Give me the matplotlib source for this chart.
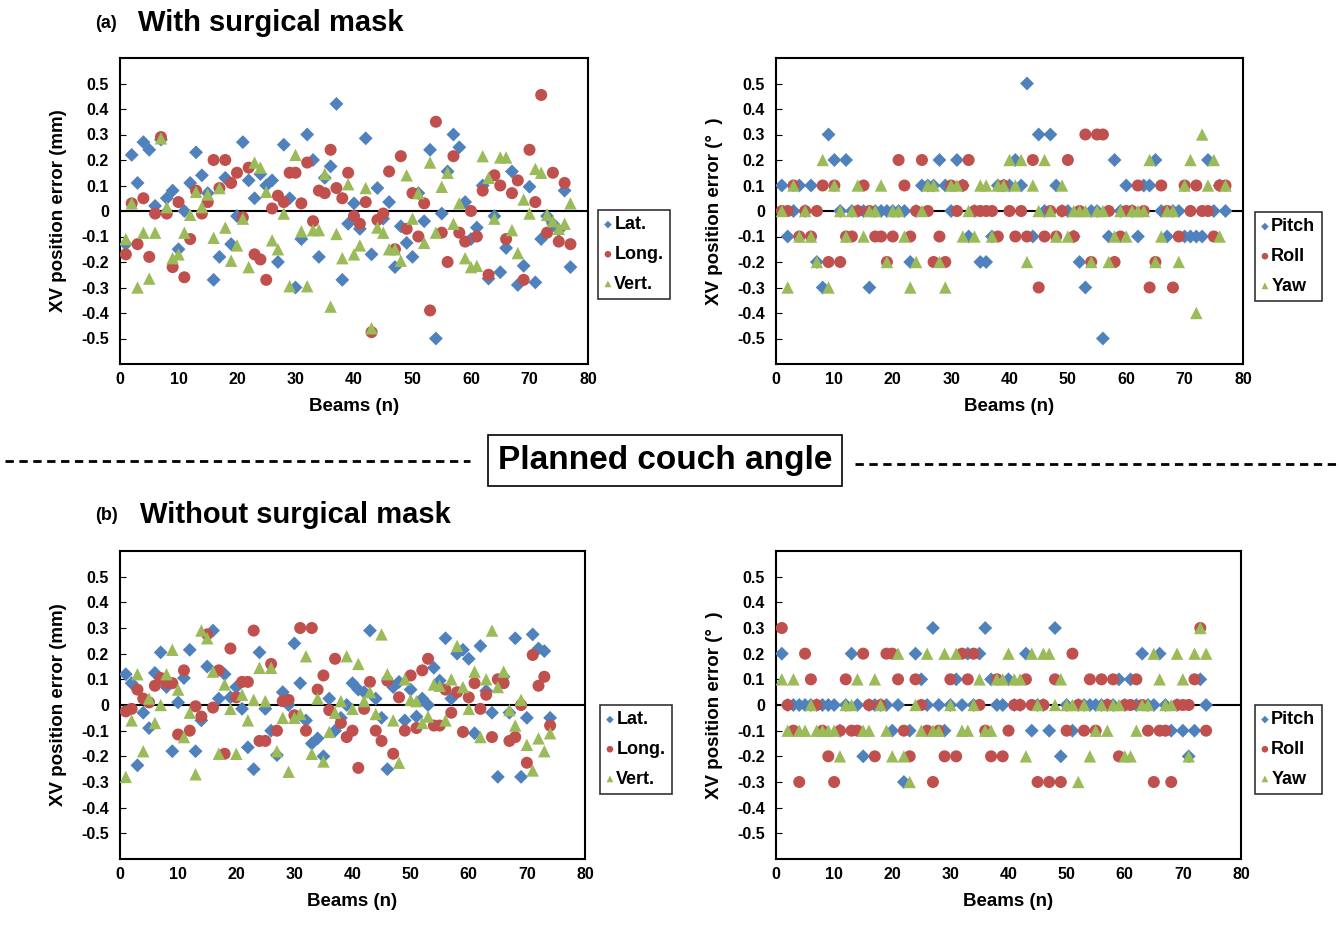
import matplotlib
matplotlib.use('Agg')
import matplotlib.pyplot as plt
from matplotlib.lines import Line2D

plt.rcParams['font.family'] = ['Liberation Sans', 'DejaVu Sans']
plt.rcParams['font.weight'] = 'bold'

# ---- data: (a) with surgical mask, beams 1..77 ----
beams_a = list(range(1, 78))
lat_a = [-0.13, 0.22, 0.11, 0.27, 0.24, 0.02, 0.28, 0.05, 0.08, -0.15,
         0.0, 0.11, 0.23, 0.14, 0.07, -0.27, -0.18, 0.13, -0.13, -0.02,
         0.27, 0.12, 0.05, 0.145, 0.1, 0.12, -0.2, 0.26, 0.05, -0.3,
         -0.11, 0.3, 0.2, -0.18, 0.13, 0.175, 0.42, -0.27, -0.05, 0.03,
         -0.07, 0.285, -0.17, 0.09, -0.03, 0.035, -0.22, -0.06, -0.125, -0.18,
         0.07, -0.04, 0.24, -0.5, -0.01, 0.155, 0.3, 0.25, 0.035, -0.11,
         -0.065, 0.1, -0.265, -0.02, -0.24, -0.145, 0.155, -0.29, -0.215, 0.095,
         -0.28, -0.11, -0.02, -0.05, -0.075, 0.08, -0.22]
long_a = [-0.17, 0.03, -0.13, 0.05, -0.18, -0.01, 0.29, -0.01, -0.22, 0.035,
          -0.26, -0.11, 0.08, -0.01, 0.035, 0.2, 0.09, 0.2, 0.11, 0.15,
          -0.025, 0.17, -0.17, -0.19, -0.27, 0.01, 0.06, 0.035, 0.15, 0.15,
          0.03, 0.19, -0.04, 0.08, 0.07, 0.24, 0.09, 0.05, 0.15, -0.02,
          -0.05, 0.035, -0.475, -0.035, -0.01, 0.155, -0.15, 0.215, -0.07, 0.07,
          -0.1, 0.03, -0.39, 0.35, -0.085, -0.2, 0.215, -0.085, -0.12, 0.0,
          -0.1, 0.08, -0.25, 0.14, 0.1, -0.11, 0.07, 0.12, -0.27, 0.24,
          0.035, 0.455, -0.085, 0.15, -0.12, 0.11, -0.13]
vert_a = [-0.11, 0.03, -0.3, -0.085, -0.265, -0.085, 0.285, 0.015, -0.185, -0.17,
          -0.085, -0.015, 0.075, 0.015, 0.065, -0.105, 0.09, -0.065, -0.195, -0.135,
          -0.03, -0.22, 0.19, 0.17, 0.075, -0.115, -0.15, -0.01, -0.295, 0.22,
          -0.08, -0.295, -0.075, -0.075, 0.145, -0.375, -0.09, -0.185, 0.105, -0.17,
          -0.135, 0.09, -0.46, -0.065, -0.085, -0.15, -0.15, -0.195, 0.14, -0.03,
          0.07, -0.125, 0.19, -0.085, 0.095, 0.15, -0.05, 0.03, -0.185, -0.22,
          -0.215, 0.215, 0.13, -0.03, 0.21, 0.21, -0.075, -0.165, 0.045, -0.01,
          0.165, 0.15, -0.015, -0.04, -0.07, -0.05, 0.03]
pitch_a = [0.1, -0.1, 0, 0.1, 0, 0.1, -0.2, -0.3, 0.3, 0.2,
           0, 0.2, 0, 0, 0, -0.3, 0, 0, 0, 0,
           0, 0, -0.2, 0, 0.1, 0.1, 0.1, 0.2, 0.1, 0,
           0.2, 0.1, -0.1, 0, -0.2, -0.2, -0.1, 0.1, 0.1, 0.1,
           0.2, 0.1, 0.5, -0.1, 0.3, 0, 0.3, 0.1, 0, 0,
           -0.1, -0.2, -0.3, 0, 0, -0.5, -0.1, 0.2, 0, 0.1,
           0, -0.1, 0.1, 0.1, 0.2, 0, -0.1, 0, 0, -0.1,
           -0.1, -0.1, -0.1, 0.2, 0, 0.1, 0]
roll_a = [0, 0, 0.1, -0.1, 0, -0.1, 0, 0.1, -0.2, 0.1,
          -0.2, -0.1, -0.1, 0, 0.1, 0, -0.1, -0.1, -0.2, -0.1,
          0.2, 0.1, -0.1, 0, 0.2, 0, -0.2, -0.1, -0.2, 0.1,
          0, 0.1, 0.2, 0, 0, 0, 0, -0.1, 0.1, 0,
          -0.1, 0, -0.1, 0.2, -0.3, -0.1, 0, -0.1, 0, 0.2,
          -0.1, 0, 0.3, -0.2, 0.3, 0.3, 0, -0.2, -0.1, 0,
          0, 0.1, 0, -0.3, -0.2, 0.1, 0, -0.3, -0.1, 0.1,
          0, 0.1, 0, 0, -0.1, 0.1, 0.1]
yaw_a = [0, -0.3, 0.1, -0.1, 0, -0.1, -0.2, 0.2, -0.3, 0.1,
         0, -0.1, 0, 0.1, -0.1, 0, 0, 0.1, -0.2, 0,
         0, -0.1, -0.3, -0.2, 0, 0.1, 0.1, -0.2, -0.3, 0.1,
         0.1, -0.1, 0, -0.1, 0.1, 0.1, -0.1, 0.1, 0.1, 0.2,
         0.1, 0.2, -0.2, 0.1, 0, 0.2, 0, -0.1, 0.1, -0.1,
         0, 0, 0, -0.2, 0, 0, -0.2, -0.1, 0, -0.1,
         0, 0, 0, 0.2, -0.2, -0.1, 0, 0, -0.2, 0.1,
         0.2, -0.4, 0.3, 0.1, 0.2, -0.1, 0.1]

# ---- data: (b) without surgical mask, beams 1..74 ----
beams_b = list(range(1, 75))
lat_b = [0.12, 0.085, -0.235, -0.03, -0.09, 0.125, 0.205, 0.07, -0.18, 0.01,
         0.105, 0.215, -0.18, -0.06, 0.15, 0.29, 0.025, 0.12, 0.03, 0.07,
         -0.015, -0.165, -0.25, 0.205, -0.015, -0.1, -0.195, 0.05, 0.0, 0.24,
         0.085, -0.06, -0.15, -0.13, -0.2, 0.025, -0.1, -0.05, 0.0, 0.085,
         0.06, 0.05, 0.29, 0.025, -0.05, -0.25, 0.07, 0.09, -0.06, 0.06,
         -0.045, 0.025, 0.0, 0.145, 0.095, 0.26, 0.025, 0.2, 0.215, 0.18,
         -0.11, 0.23, 0.055, -0.03, -0.28, 0.11, -0.03, 0.26, -0.28, -0.05,
         0.275, 0.22, 0.21, -0.05]
long_b = [-0.025, -0.015, 0.06, 0.025, 0.01, 0.075, 0.105, 0.085, 0.085, -0.115,
          0.135, -0.1, -0.005, -0.045, 0.275, -0.01, 0.135, -0.19, 0.22, 0.03,
          0.09, 0.09, 0.29, -0.14, -0.14, 0.16, -0.1, 0.015, 0.02, -0.04,
          0.3, -0.1, 0.3, 0.06, 0.115, -0.02, 0.18, -0.07, -0.125, -0.1,
          -0.245, -0.015, 0.09, -0.1, -0.14, 0.095, -0.19, 0.03, -0.1, 0.115,
          -0.09, 0.135, 0.18, -0.08, -0.08, 0.06, -0.03, 0.05, -0.105, 0.03,
          0.085, -0.015, 0.04, -0.125, 0.1, 0.085, -0.14, -0.125, 0.0, -0.225,
          0.195, 0.075, 0.11, -0.08]
vert_b = [-0.28, -0.06, 0.12, -0.18, 0.025, -0.07, 0.0, 0.12, 0.215, 0.06,
          -0.125, -0.03, -0.27, 0.29, 0.26, 0.13, -0.19, 0.08, -0.015, -0.19,
          0.04, -0.06, 0.02, 0.145, 0.015, 0.145, -0.18, -0.05, -0.26, -0.05,
          -0.035, 0.19, -0.19, 0.025, -0.22, -0.105, -0.03, 0.015, 0.19, -0.015,
          0.16, 0.015, 0.05, -0.035, 0.275, 0.12, -0.06, -0.225, 0.1, 0.02,
          0.015, -0.07, -0.045, 0.08, 0.075, -0.06, 0.1, 0.23, 0.07, -0.015,
          0.13, -0.125, 0.1, 0.29, 0.07, 0.13, -0.02, -0.08, 0.02, -0.155,
          -0.255, -0.13, -0.18, -0.11]
pitch_b = [0.2, 0, 0, 0, 0, 0, 0, 0, 0, 0,
           -0.1, 0, 0.2, 0, -0.2, 0, 0, 0, 0, -0.1,
           0, -0.3, -0.1, 0.2, 0.1, 0, 0.3, 0, -0.1, 0,
           0.1, 0, 0.2, 0, 0.2, 0.3, 0.1, 0, 0, 0.1,
           0, 0, 0.2, -0.1, 0, 0, -0.1, 0.3, -0.2, 0,
           -0.1, 0, 0, 0, 0, 0, 0, 0, 0.1, 0,
           0.1, 0, 0.2, 0, 0, 0.2, 0, -0.1, 0, -0.1,
           -0.2, -0.1, 0.1, 0]
roll_b = [0.3, 0, -0.1, -0.3, 0.2, 0.1, 0, -0.1, -0.2, -0.3,
          -0.1, 0.1, -0.1, -0.1, 0.2, 0, -0.2, 0, 0.2, 0.2,
          0.1, -0.1, -0.2, 0.1, 0, -0.1, -0.3, -0.1, -0.2, 0.1,
          -0.2, 0.2, 0.1, 0.2, 0, -0.1, -0.2, 0.1, -0.2, -0.1,
          0, 0, 0.1, 0, -0.3, 0, -0.3, 0.1, -0.3, -0.1,
          0.2, 0, -0.1, 0.1, -0.1, 0.1, 0, 0.1, -0.2, 0,
          0, 0.1, 0, -0.1, -0.3, -0.1, -0.1, -0.3, 0, 0,
          0, 0.1, 0.3, -0.1]
yaw_b = [0.1, -0.1, 0.1, -0.1, -0.1, 0, -0.1, -0.1, -0.1, -0.1,
         -0.2, 0, 0, 0.1, -0.1, -0.1, 0.1, 0, -0.1, -0.2,
         0.2, -0.2, -0.3, 0, -0.1, 0.2, -0.1, -0.1, 0.2, 0,
         0.2, -0.1, -0.1, 0, 0.1, -0.1, -0.1, 0.1, 0.1, 0.2,
         0.1, 0.1, -0.2, 0.2, 0, 0.2, 0.2, 0, 0.1, 0,
         0, -0.3, 0, -0.2, -0.1, 0, -0.1, 0, 0, -0.2,
         -0.2, -0.1, 0, 0, 0.2, 0.1, 0, 0, 0.2, 0.1,
         -0.2, 0.2, 0.3, 0.2]

trans_labels = ['Lat.', 'Long.', 'Vert.']
rot_labels = ['Pitch', 'Roll', 'Yaw']
colors = ['#4F81BD', '#C0504D', '#9BBB59']
markers = ['D', 'o', '^']
sizes = [50, 75, 80]

W, H = 1339, 925
fig = plt.figure(figsize=(W / 100, H / 100), dpi=100)


def px_axes(x0, y0, x1, y1):
    return fig.add_axes([x0 / W, 1 - y1 / H, (x1 - x0) / W, (y1 - y0) / H])


def panel(box, x, series, labels, ylabel, leg_xy):
    ax = px_axes(*box)
    for vals, lab, c, m, s in zip(series, labels, colors, markers, sizes):
        ax.scatter(x, vals, s=s, marker=m, color=c, edgecolors='none', label=lab, zorder=3)
    ax.axhline(0, color='black', lw=1.5, zorder=2)
    ax.set_xlim(0, 80)
    ax.set_ylim(-0.6, 0.6)
    ax.set_xticks(range(0, 81, 10))
    yt = [round(-0.5 + 0.1 * i, 1) for i in range(11)]
    ax.set_yticks(yt)
    ax.set_yticklabels(['0' if v == 0 else f'{v:.1f}' for v in yt])
    ax.tick_params(axis='x', length=0, labelsize=11.5, pad=6)
    ax.tick_params(axis='y', direction='in', length=4, labelsize=11.5, pad=8)
    for lbl in ax.get_xticklabels() + ax.get_yticklabels():
        lbl.set_fontweight('bold')
    for sp in ax.spines.values():
        sp.set_linewidth(1.5)
    ax.set_xlabel('Beams (n)', fontsize=13.5, fontweight='bold', labelpad=8)
    ax.set_ylabel(ylabel, fontsize=13.5, fontweight='bold', labelpad=10)
    leg = ax.legend(loc='upper left', bbox_to_anchor=(leg_xy[0] / W, 1 - leg_xy[1] / H),
                    bbox_transform=fig.transFigure, frameon=True, fancybox=False,
                    edgecolor='black', markerscale=0.55, handlelength=0.4,
                    handletextpad=0.15, labelspacing=0.7, borderpad=0.35,
                    borderaxespad=0, prop={'weight': 'bold', 'size': 13})
    leg.get_frame().set_linewidth(1.2)
    return ax


panel((120, 58, 588, 364), beams_a, [lat_a, long_a, vert_a], trans_labels,
      'XV position error (mm)', (598, 210))
panel((776, 58, 1243, 364), beams_a, [pitch_a, roll_a, yaw_a], rot_labels,
      'XV position error (\u00b0  )', (1255, 212))
panel((120, 551, 585, 859), beams_b, [lat_b, long_b, vert_b], trans_labels,
      'XV position error (mm)', (600, 705))
panel((776, 551, 1241, 859), beams_b, [pitch_b, roll_b, yaw_b], rot_labels,
      'XV position error (\u00b0  )', (1255, 705))

narrow = ['Liberation Sans Narrow', 'Liberation Sans', 'DejaVu Sans']
fig.text(95 / W, 1 - 23 / H, '(a)', fontsize=13, fontweight='bold', family=narrow, va='center')
fig.text(138 / W, 1 - 23 / H, 'With surgical mask', fontsize=21, fontweight='bold', family=narrow, va='center')
fig.text(95 / W, 1 - 515 / H, '(b)', fontsize=13, fontweight='bold', family=narrow, va='center')
fig.text(140 / W, 1 - 515 / H, 'Without surgical mask', fontsize=21, fontweight='bold', family=narrow, va='center')

# dashed separator with boxed label
fig.add_artist(Line2D([5 / W, 470 / W], [1 - 461 / H] * 2, color='black', lw=2, ls=(0, (3, 2))))
fig.add_artist(Line2D([855 / W, 1339 / W], [1 - 464 / H] * 2, color='black', lw=2, ls=(0, (3, 2))))
fig.text(665 / W, 1 - 460 / H, 'Planned couch angle', fontsize=24, fontweight='bold', family=narrow,
         ha='center', va='center',
         bbox=dict(boxstyle='square,pad=0.3', facecolor='white', edgecolor='black', linewidth=1.2))

fig.savefig('out.png', dpi=100)
